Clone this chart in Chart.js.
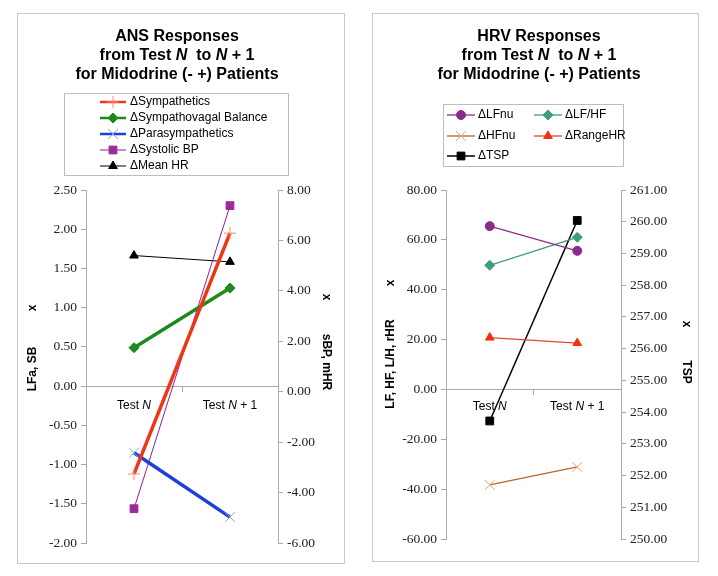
<!DOCTYPE html>
<html>
<head>
<meta charset="utf-8">
<script src="https://cdn.jsdelivr.net/npm/chart.js@4"></script>
<style>
  body { margin: 0; background: #fff; }
  .box { position: absolute; border: 1px solid #c8c8c8; }
  #ansBox { left: 17px; top: 13px; width: 326px; height: 549px; }
  #hrvBox { left: 372px; top: 13px; width: 325px; height: 547px; }
  canvas { display: block; }
</style>
</head>
<body>
<div class="box" id="ansBox"><canvas id="ans" width="326" height="549"></canvas></div>
<div class="box" id="hrvBox"><canvas id="hrv" width="325" height="547"></canvas></div>
<script>
// data
const categories = ['Test N', 'Test N + 1'];

const sympathetics = [-1.12, 1.95];
const sympathovagal = [0.49, 1.25];
const parasympathetics = [-0.85, -1.67];
const systolicBP = [-4.64, 7.38];   // right axis
const meanHR = [5.40, 5.15];        // right axis

const lfnu = [65.5, 55.6];
const lfhf = [49.8, 61.0];
const hfnu = [-38.3, -31.1];
const rangeHR = [20.8, 18.6];
const tsp = [253.72, 260.04];       // right axis

const ansTitle = ['ANS Responses', 'from Test N  to N + 1', 'for Midodrine (- +) Patients'];
const hrvTitle = ['HRV Responses', 'from Test N  to N + 1', 'for Midodrine (- +) Patients'];

const SANS = '"Liberation Sans", Arial, sans-serif';
const SERIF = '"Liberation Serif", "Times New Roman", serif';

// draws a string with any standalone "N" in italics
function richText(ctx, str, x, y, size, weight, align) {
    const parts = str.split(/(\bN\b)/).filter(s => s);
    const font = it => `${it ? 'italic ' : ''}${weight} ${size}px ${SANS}`;
    let w = 0;
    parts.forEach(p => { ctx.font = font(p === 'N'); w += ctx.measureText(p).width; });
    let cx = align === 'center' ? x - w / 2 : x;
    ctx.textAlign = 'left';
    parts.forEach(p => {
        ctx.font = font(p === 'N');
        ctx.fillText(p, cx, y);
        cx += ctx.measureText(p).width;
    });
}

const decorations = {
    id: 'decorations',
    afterDraw(chart, args, opts) {
        const ctx = chart.ctx;
        ctx.save();
        ctx.textBaseline = 'middle';
        ctx.fillStyle = '#000';
        opts.title.forEach((line, i) => richText(ctx, line, opts.titleX, opts.titleY + i * 19, 16, 'bold', 'center'));

        // legend box
        const L = opts.legend;
        ctx.strokeStyle = '#bdbdbd';
        ctx.lineWidth = 1;
        ctx.strokeRect(L.x + 0.5, L.y + 0.5, L.w, L.h);
        chart.data.datasets.forEach((ds, i) => {
            const x0 = L.itemX[i % L.cols];
            const y0 = L.rowY[Math.floor(i / L.cols)];
            ctx.strokeStyle = ds.borderColor;
            ctx.lineWidth = Math.min(ds.borderWidth, 2.5);
            ctx.beginPath();
            ctx.moveTo(x0, y0);
            ctx.lineTo(x0 + L.lineLen, y0);
            ctx.stroke();
            ctx.fillStyle = ds.pointBackgroundColor;
            ctx.strokeStyle = ds.pointBorderColor;
            ctx.lineWidth = 1;
            Chart.helpers.drawPoint(ctx, {pointStyle: ds.pointStyle, radius: ds.pointRadius, rotation: 0, borderWidth: 1}, x0 + L.lineLen / 2, y0);
            ctx.fillStyle = '#000';
            ctx.font = `12px ${SANS}`;
            ctx.textAlign = 'left';
            ctx.fillText(ds.label, x0 + L.lineLen + L.gap, y0);
        });

        // category labels under the zero line
        const xs = chart.scales.x;
        const zero = chart.scales.y.getPixelForValue(0);
        chart.data.labels.forEach((lab, i) => richText(ctx, lab, xs.getPixelForTick(i), zero + opts.labelGap, 12, '', 'center'));

        // axis titles
        opts.axisTitles.forEach(t => {
            ctx.save();
            ctx.translate(t.x, t.y);
            ctx.rotate(t.rot);
            ctx.font = `bold 12px ${SANS}`;
            ctx.textAlign = 'center';
            ctx.fillText(t.text, 0, 0);
            ctx.restore();
        });
        ctx.restore();
    }
};

function series(label, data, color, width, style, radius, fill, border, axis) {
    return {
        label: label,
        data: data,
        yAxisID: axis || 'y',
        borderColor: color,
        borderWidth: width,
        pointStyle: style,
        pointRadius: radius,
        pointHoverRadius: radius,
        pointBackgroundColor: fill,
        pointBorderColor: border,
        pointBorderWidth: 1,
        tension: 0,
        fill: false
    };
}

function axis(pos, min, max, step, width) {
    return {
        position: pos,
        min: min,
        max: max,
        ticks: {
            stepSize: step,
            padding: 4,
            color: '#222',
            font: {family: SERIF, size: 13.5},
            callback: v => v.toFixed(2)
        },
        grid: {drawOnChartArea: false, tickLength: 5, color: '#aaa'},
        border: {color: '#aaa'},
        afterFit: s => { s.width = width; }
    };
}

function xAxis() {
    return {
        type: 'category',
        position: {y: 0},
        offset: true,
        ticks: {display: false},
        grid: {drawOnChartArea: false, offset: true, tickLength: 5, color: '#aaa'},
        border: {color: '#aaa'}
    };
}

new Chart(document.getElementById('ans'), {
    type: 'line',
    data: {
        labels: categories,
        datasets: [
            series('ΔSympathetics', sympathetics, '#ee3516', 3.5, 'cross', 6, '#ff8a75', '#ff8a75'),
            series('ΔSympathovagal Balance', sympathovagal, '#1e8a1e', 3.5, 'rectRot', 5, '#1e8a1e', '#1e8a1e'),
            series('ΔParasympathetics', parasympathetics, '#1c3fe0', 3.5, 'crossRot', 7, '#86a0f0', '#86a0f0'),
            series('ΔSystolic BP', systolicBP, '#8e2090', 1, 'rect', 5.5, '#9a2a9a', '#9a2a9a', 'y1'),
            series('ΔMean HR', meanHR, '#000', 1, 'triangle', 5, '#000', '#000', 'y1')
        ]
    },
    options: {
        responsive: false,
        animation: false,
        layout: {padding: {top: 176, bottom: 20, left: 0, right: 0}},
        scales: {
            x: xAxis(),
            y: axis('left', -2, 2.5, 0.5, 68),
            y1: axis('right', -6, 8, 2, 66)
        },
        plugins: {
            legend: {display: false},
            tooltip: {enabled: false},
            decorations: {
                title: ansTitle,
                titleX: 159,
                titleY: 23,
                labelGap: 20,
                legend: {x: 46, y: 79, w: 224, h: 82, cols: 1, itemX: [82], rowY: [88, 104, 120, 136, 152], lineLen: 26, gap: 4},
                axisTitles: [
                    {text: 'x', x: 15, y: 294, rot: -Math.PI / 2},
                    {text: 'LFa, SB', x: 15, y: 355, rot: -Math.PI / 2},
                    {text: 'x', x: 308, y: 283, rot: Math.PI / 2},
                    {text: 'sBP, mHR', x: 308, y: 348, rot: Math.PI / 2}
                ]
            }
        }
    },
    plugins: [decorations]
});

new Chart(document.getElementById('hrv'), {
    type: 'line',
    data: {
        labels: categories,
        datasets: [
            series('ΔLFnu', lfnu, '#8e2d8e', 1.3, 'circle', 4.5, '#8a2a8a', '#8a2a8a'),
            series('ΔLF/HF', lfhf, '#3d9e78', 1.3, 'rectRot', 5, '#3d9e78', '#3d9e78'),
            series('ΔHFnu', hfnu, '#b8652e', 1.3, 'crossRot', 7, '#e4a070', '#e4a070'),
            series('ΔRangeHR', rangeHR, '#e8452c', 1.3, 'triangle', 5, '#f0300e', '#f0300e'),
            series('ΔTSP', tsp, '#000', 1.5, 'rect', 5.5, '#000', '#000', 'y1')
        ]
    },
    options: {
        responsive: false,
        animation: false,
        layout: {padding: {top: 176, bottom: 22, left: 0, right: 0}},
        scales: {
            x: xAxis(),
            y: axis('left', -60, 80, 20, 73),
            y1: axis('right', 250, 261, 1, 77)
        },
        plugins: {
            legend: {display: false},
            tooltip: {enabled: false},
            decorations: {
                title: hrvTitle,
                titleX: 166,
                titleY: 23,
                labelGap: 17,
                legend: {x: 70, y: 90, w: 180, h: 62, cols: 2, itemX: [74, 161], rowY: [101, 122, 142], lineLen: 28, gap: 3},
                axisTitles: [
                    {text: 'x', x: 18, y: 269, rot: -Math.PI / 2},
                    {text: 'LF, HF, L/H, rHR', x: 18, y: 350, rot: -Math.PI / 2},
                    {text: 'x', x: 313, y: 310, rot: Math.PI / 2},
                    {text: 'TSP', x: 313, y: 358, rot: Math.PI / 2}
                ]
            }
        }
    },
    plugins: [decorations]
});
</script>
</body>
</html>
